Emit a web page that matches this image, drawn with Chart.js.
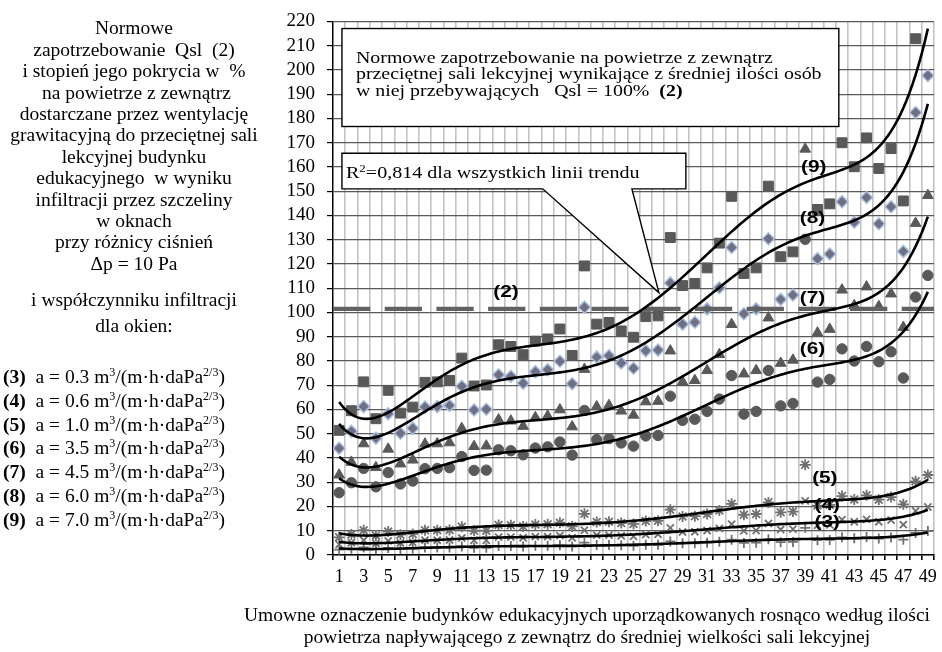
<!DOCTYPE html>
<html>
<head>
<meta charset="utf-8">
<script src="https://cdn.jsdelivr.net/npm/chart.js@4.4.1/dist/chart.umd.min.js"></script>
<style>
  html, body { margin: 0; padding: 0; background: #fff; }
  #wrap { position: relative; width: 942px; height: 652px; overflow: hidden; }
  #c { position: absolute; left: 0; top: 0; }
  .t { position: absolute; white-space: pre; font-family: 'Liberation Serif', 'Times New Roman', serif; font-size: 19.5px; line-height: 22px; color: #000; }
  .ctr { left: 0; width: 268px; text-align: center; }
  .leg { left: 3px; }
  .leg sup { font-size: 12px; line-height: 0; vertical-align: 7px; }
  .ttl { left: 237px; width: 700px; text-align: center; }
</style>
</head>
<body>
<div id="wrap">
  <canvas id="c" width="942" height="652"></canvas>
  <div class="t ctr" style="top:17px">Normowe</div>
  <div class="t ctr" style="top:39px">zapotrzebowanie  Qsl  (2)</div>
  <div class="t ctr" style="top:60px">i stopień jego pokrycia w  %</div>
  <div class="t ctr" style="top:82px"> na powietrze z zewnątrz</div>
  <div class="t ctr" style="top:103px">dostarczane przez wentylację</div>
  <div class="t ctr" style="top:124px">grawitacyjną do przeciętnej sali</div>
  <div class="t ctr" style="top:146px">lekcyjnej budynku</div>
  <div class="t ctr" style="top:167px">edukacyjnego  w wyniku</div>
  <div class="t ctr" style="top:189px">infiltracji przez szczeliny</div>
  <div class="t ctr" style="top:210px">w oknach</div>
  <div class="t ctr" style="top:231px">przy różnicy ciśnień</div>
  <div class="t ctr" style="top:253px">Δp = 10 Pa</div>
  <div class="t ctr" style="top:289px">i współczynniku infiltracji</div>
  <div class="t ctr" style="top:315px">dla okien:</div>
  <div class="t leg" style="top:366px"><b>(3)</b>  a = 0.3 m<sup>3</sup>/(m·h·daPa<sup>2/3</sup>)</div>
  <div class="t leg" style="top:390px"><b>(4)</b>  a = 0.6 m<sup>3</sup>/(m·h·daPa<sup>2/3</sup>)</div>
  <div class="t leg" style="top:414px"><b>(5)</b>  a = 1.0 m<sup>3</sup>/(m·h·daPa<sup>2/3</sup>)</div>
  <div class="t leg" style="top:437px"><b>(6)</b>  a = 3.5 m<sup>3</sup>/(m·h·daPa<sup>2/3</sup>)</div>
  <div class="t leg" style="top:461px"><b>(7)</b>  a = 4.5 m<sup>3</sup>/(m·h·daPa<sup>2/3</sup>)</div>
  <div class="t leg" style="top:485px"><b>(8)</b>  a = 6.0 m<sup>3</sup>/(m·h·daPa<sup>2/3</sup>)</div>
  <div class="t leg" style="top:509px"><b>(9)</b>  a = 7.0 m<sup>3</sup>/(m·h·daPa<sup>2/3</sup>)</div>
  <div class="t ttl" style="top:604px">Umowne oznaczenie budynków edukacyjnych uporządkowanych rosnąco według ilości</div>
  <div class="t ttl" style="top:626px">powietrza napływającego z zewnątrz do średniej wielkości sali lekcyjnej</div>
</div>
<script>
// ---------------- DATA ----------------
const buildings = [1,2,3,4,5,6,7,8,9,10,11,12,13,14,15,16,17,18,19,20,21,22,23,24,25,26,27,28,29,30,31,32,33,34,35,36,37,38,39,40,41,42,43,44,45,46,47,48,49];

// (9) a = 7.0
const s9 = [51.4,59.5,71.4,56.2,67.9,58.5,61.0,71.2,71.4,72.0,81.2,69.7,70.1,86.7,86.0,82.6,88.2,89.1,93.2,82.3,119.2,95.2,95.9,92.4,89.8,98.3,98.6,130.9,111.1,112.0,118.4,128.6,147.9,116.1,118.4,152.1,123.0,125.0,260.4,142.5,144.8,170.0,160.1,172.0,159.4,167.6,146.0,212.9,230.7];
// (8) a = 6.0
const s8 = [44.0,51.0,61.2,48.2,58.2,50.2,52.3,61.0,61.2,61.7,69.6,59.8,60.1,74.3,73.7,70.8,75.6,76.4,79.9,70.6,102.2,81.6,82.2,79.2,77.0,84.2,84.5,112.2,95.2,96.0,101.5,110.2,126.8,99.5,101.5,130.4,105.4,107.2,223.2,122.2,124.1,145.7,137.2,147.4,136.6,143.6,125.2,182.5,197.7];
// (7) a = 4.5
const s7 = [33.0,38.3,45.9,36.1,43.7,37.6,39.2,45.8,45.9,46.3,52.2,44.8,45.0,55.8,55.3,53.1,56.7,57.3,59.9,52.9,76.6,61.2,61.7,59.4,57.7,63.2,63.4,84.2,71.4,72.0,76.1,82.7,95.1,74.7,76.1,97.8,79.1,80.4,167.4,91.6,93.1,109.3,102.9,110.6,102.5,107.7,93.9,136.8,148.3];
// (6) a = 3.5
const s6 = [25.7,29.8,35.7,28.1,34.0,29.3,30.5,35.6,35.7,36.0,40.6,34.9,35.0,43.4,43.0,41.3,44.1,44.6,46.6,41.2,59.6,47.6,48.0,46.2,44.9,49.1,49.3,65.5,55.5,56.0,59.2,64.3,74.0,58.1,59.2,76.1,61.5,62.5,130.2,71.3,72.4,85.0,80.0,86.0,79.7,83.8,73.0,106.4,115.3];
// (5) a = 1.0
const s5 = [7.3,8.5,10.2,8.0,9.7,8.4,8.7,10.2,10.2,10.3,11.6,10.0,10.0,12.4,12.3,11.8,12.6,12.7,13.3,11.8,17.0,13.6,13.7,13.2,12.8,14.0,14.1,18.7,15.9,16.0,16.9,18.4,21.1,16.6,16.9,21.7,17.6,17.9,37.2,20.4,20.7,24.3,22.9,24.6,22.8,23.9,20.9,30.4,33.0];
// (4) a = 0.6
const s4 = [4.4,5.1,6.1,4.8,5.8,5.0,5.2,6.1,6.1,6.2,7.0,6.0,6.0,7.4,7.4,7.1,7.6,7.6,8.0,7.1,10.2,8.2,8.2,7.9,7.7,8.4,8.5,11.2,9.5,9.6,10.1,11.0,12.7,10.0,10.1,13.0,10.5,10.7,22.3,12.2,12.4,14.6,13.7,14.7,13.7,14.4,12.5,18.2,19.8];
// (3) a = 0.3
const s3 = [2.2,2.6,3.1,2.4,2.9,2.5,2.6,3.1,3.1,3.1,3.5,3.0,3.0,3.7,3.7,3.5,3.8,3.8,4.0,3.5,5.1,4.1,4.1,4.0,3.8,4.2,4.2,5.6,4.8,4.8,5.1,5.5,6.3,5.0,5.1,6.5,5.3,5.4,11.2,6.1,6.2,7.3,6.9,7.4,6.8,7.2,6.3,9.1,9.9];

// (2) normative requirement Qsl = 100 %
const normLevel = 101.5;

const yTicks = [0,10,20,30,40,50,60,70,80,90,100,110,120,130,140,150,160,170,180,190,200,210,220];
const xLabels = [1,3,5,7,9,11,13,15,17,19,21,23,25,27,29,31,33,35,37,39,41,43,45,47,49];

// ---------------- HELPERS ----------------
const SERIF = "'Liberation Serif', 'Times New Roman', serif";
const SANS = "'Liberation Sans', Arial, sans-serif";
const X_MIN = 0.5, X_MAX = 49.5;

function pts(vals) { return buildings.map((b, i) => ({ x: b, y: vals[i] })); }

// Polynomial (order 6) least-squares trend line, as in the spreadsheet
function polyTrend(vals, deg) {
  const n = deg + 1, xm = 25, xr = 24;
  const A = Array.from({ length: n }, () => new Array(n + 1).fill(0));
  buildings.forEach((b, i) => {
    const t = (b - xm) / xr;
    const p = []; let v = 1;
    for (let k = 0; k < n; k++) { p.push(v); v *= t; }
    for (let r = 0; r < n; r++) {
      for (let c = 0; c < n; c++) A[r][c] += p[r] * p[c];
      A[r][n] += p[r] * vals[i];
    }
  });
  for (let col = 0; col < n; col++) {
    let piv = col;
    for (let r = col + 1; r < n; r++) if (Math.abs(A[r][col]) > Math.abs(A[piv][col])) piv = r;
    [A[col], A[piv]] = [A[piv], A[col]];
    for (let r = 0; r < n; r++) {
      if (r === col) continue;
      const f = A[r][col] / A[col][col];
      for (let c = col; c <= n; c++) A[r][c] -= f * A[col][c];
    }
  }
  const coef = A.map((row, i) => row[n] / row[i]);
  const out = [];
  for (let x = buildings[0]; x <= buildings[buildings.length - 1] + 1e-9; x += 0.25) {
    const t = (x - xm) / xr;
    let y = 0, v = 1;
    for (let k = 0; k < n; k++) { y += coef[k] * v; v *= t; }
    out.push({ x: x, y: y });
  }
  return out;
}

function trendDs(vals) {
  return { type: 'scatter', data: polyTrend(vals, 6), showLine: true, borderColor: '#000', borderWidth: 2.6,
           pointRadius: 0, fill: false, tension: 0, order: 0 };
}

function markDs(vals, style, radius, bg, border, bw) {
  return { type: 'scatter', data: pts(vals), showLine: false, pointStyle: style, pointRadius: radius,
           backgroundColor: bg, borderColor: border, pointBorderWidth: bw, order: 5 };
}

const MARK = '#595959';
const LIGHT = '#707070';

const datasets = [
  trendDs(s9), trendDs(s8), trendDs(s7), trendDs(s6), trendDs(s5), trendDs(s4), trendDs(s3),
  markDs(s9, 'rect', 7, MARK, MARK, 1),
  markDs(s8, 'rectRot', 6, '#6f7082', '#a9bde0', 1.5),
  markDs(s7, 'triangle', 6.2, MARK, MARK, 1),
  markDs(s6, 'circle', 5.2, MARK, MARK, 1),
  markDs(s5, 'star', 5.5, LIGHT, LIGHT, 1.8),
  markDs(s4, 'crossRot', 5, LIGHT, LIGHT, 1.8),
  markDs(s3, 'cross', 5, LIGHT, LIGHT, 1.8),
  { type: 'scatter', data: [{ x: X_MIN, y: normLevel }, { x: X_MAX, y: normLevel }], showLine: true,
    borderColor: '#626262', borderWidth: 4.2, borderDash: [37.3, 14.4], borderCapStyle: 'butt',
    pointRadius: 0, order: 3 }
];

// ---------------- ANNOTATIONS ----------------
function stretchText(ctx, parts, x, y, sx) {
  ctx.save();
  ctx.translate(x, y);
  ctx.scale(sx, 1);
  ctx.textBaseline = 'alphabetic';
  ctx.textAlign = 'left';
  ctx.fillStyle = '#000';
  let cx = 0;
  parts.forEach(p => {
    ctx.font = p.font;
    ctx.fillText(p.text, cx, p.dy || 0);
    cx += ctx.measureText(p.text).width;
  });
  ctx.restore();
}

const boxPlugin = {
  id: 'boxes',
  beforeDatasetsDraw(chart) {
    const ctx = chart.ctx, xs = chart.scales.x, ys = chart.scales.y;
    const px = v => xs.getPixelForValue(v), py = v => ys.getPixelForValue(v);
    ctx.save();
    ctx.lineWidth = 1.4;
    ctx.strokeStyle = '#000';
    ctx.fillStyle = '#fff';
    // box 1
    const b1 = { l: px(1.23), r: px(41.74), t: py(217.1), b: py(176.7) };
    ctx.fillRect(b1.l, b1.t, b1.r - b1.l, b1.b - b1.t);
    ctx.strokeRect(b1.l, b1.t, b1.r - b1.l, b1.b - b1.t);
    // box 2 with callout
    const b2 = { l: px(1.23), r: px(29.27), t: py(165.7), b: py(151.0) };
    ctx.beginPath();
    ctx.moveTo(b2.l, b2.t);
    ctx.lineTo(b2.r, b2.t);
    ctx.lineTo(b2.r, b2.b);
    ctx.lineTo(px(24.87), b2.b);
    ctx.lineTo(px(27.07), py(108.2));
    ctx.lineTo(px(17.6), b2.b);
    ctx.lineTo(b2.l, b2.b);
    ctx.closePath();
    ctx.fill();
    ctx.stroke();
    ctx.restore();

    const F = '17px ' + SERIF, FB = 'bold 17px ' + SERIF;
    const sx = 1.17;
    stretchText(ctx, [{ text: 'Normowe zapotrzebowanie na powietrze z zewnątrz', font: F }], b1.l + 14, b1.t + 34, sx);
    stretchText(ctx, [{ text: 'przeciętnej sali lekcyjnej wynikające z średniej ilości osób', font: F }], b1.l + 14, b1.t + 50.5, sx);
    stretchText(ctx, [{ text: 'w niej przebywających   Qsl = 100%  ', font: F }, { text: '(2)', font: FB }], b1.l + 14, b1.t + 67, sx);
    stretchText(ctx, [{ text: 'R', font: F }, { text: '2', font: '11px ' + SERIF, dy: -6 }, { text: '=0,814 dla wszystkich linii trendu', font: F }],
      b2.l + 4, b2.t + 25, 1.18);
  },
  afterDatasetsDraw(chart) {
    const ctx = chart.ctx, xs = chart.scales.x, ys = chart.scales.y;
    const labels = [
      ['(2)', 14.6, 108.2], ['(9)', 39.7, 159.6], ['(8)', 39.6, 138.8], ['(7)', 39.6, 105.7],
      ['(6)', 39.6, 84.5], ['(5)', 40.6, 31.4], ['(4)', 40.8, 20.4], ['(3)', 40.8, 13.5]
    ];
    labels.forEach(([t, x, y]) => {
      ctx.save();
      ctx.translate(xs.getPixelForValue(x), ys.getPixelForValue(y));
      ctx.scale(1.3, 1);
      ctx.font = 'bold 16px ' + SANS;
      ctx.textAlign = 'center';
      ctx.textBaseline = 'middle';
      ctx.fillStyle = '#000';
      ctx.fillText(t, 0, 0);
      ctx.restore();
    });
  }
};

// ---------------- CHART ----------------
const isBoundary = v => Math.abs(v - Math.round(v)) > 0.25;

new Chart(document.getElementById('c'), {
  type: 'scatter',
  data: { datasets },
  plugins: [boxPlugin],
  options: {
    responsive: false,
    devicePixelRatio: 1,
    animation: false,
    layout: { padding: { top: 16, right: 8, left: 0, bottom: 0 } },
    plugins: { legend: { display: false }, tooltip: { enabled: false } },
    scales: {
      x: {
        type: 'linear', min: X_MIN, max: X_MAX,
        afterBuildTicks: s => {
          const t = [];
          for (let v = X_MIN; v <= X_MAX; v += 0.5) t.push({ value: v });
          s.ticks = t;
        },
        afterFit: s => { s.height = 97; },
        ticks: {
          autoSkip: false, maxRotation: 0, minRotation: 0, padding: 6, color: '#000',
          font: { family: SERIF, size: 18 },
          callback: v => (xLabels.includes(v) ? String(v) : '')
        },
        grid: {
          color: c => (c.tick && isBoundary(c.tick.value)) ? '#c3c3c3' : 'rgba(0,0,0,0)',
          tickColor: c => (c.tick && isBoundary(c.tick.value)) ? '#000' : 'rgba(0,0,0,0)',
          lineWidth: 1.6, tickLength: 5
        },
        border: { color: '#000', width: 1.4 }
      },
      y: {
        min: 0, max: 220,
        afterBuildTicks: s => { s.ticks = yTicks.map(v => ({ value: v })); },
        afterFit: s => { s.width = 333; },
        ticks: { autoSkip: false, padding: 12, color: '#000', font: { family: SERIF, size: 19, lineHeight: 1.0 } },
        grid: { color: '#5a5a5a', lineWidth: 1.2, tickColor: '#000', tickLength: 6 },
        border: { color: '#000', width: 1.4 }
      }
    }
  }
});
</script>
</body>
</html>
